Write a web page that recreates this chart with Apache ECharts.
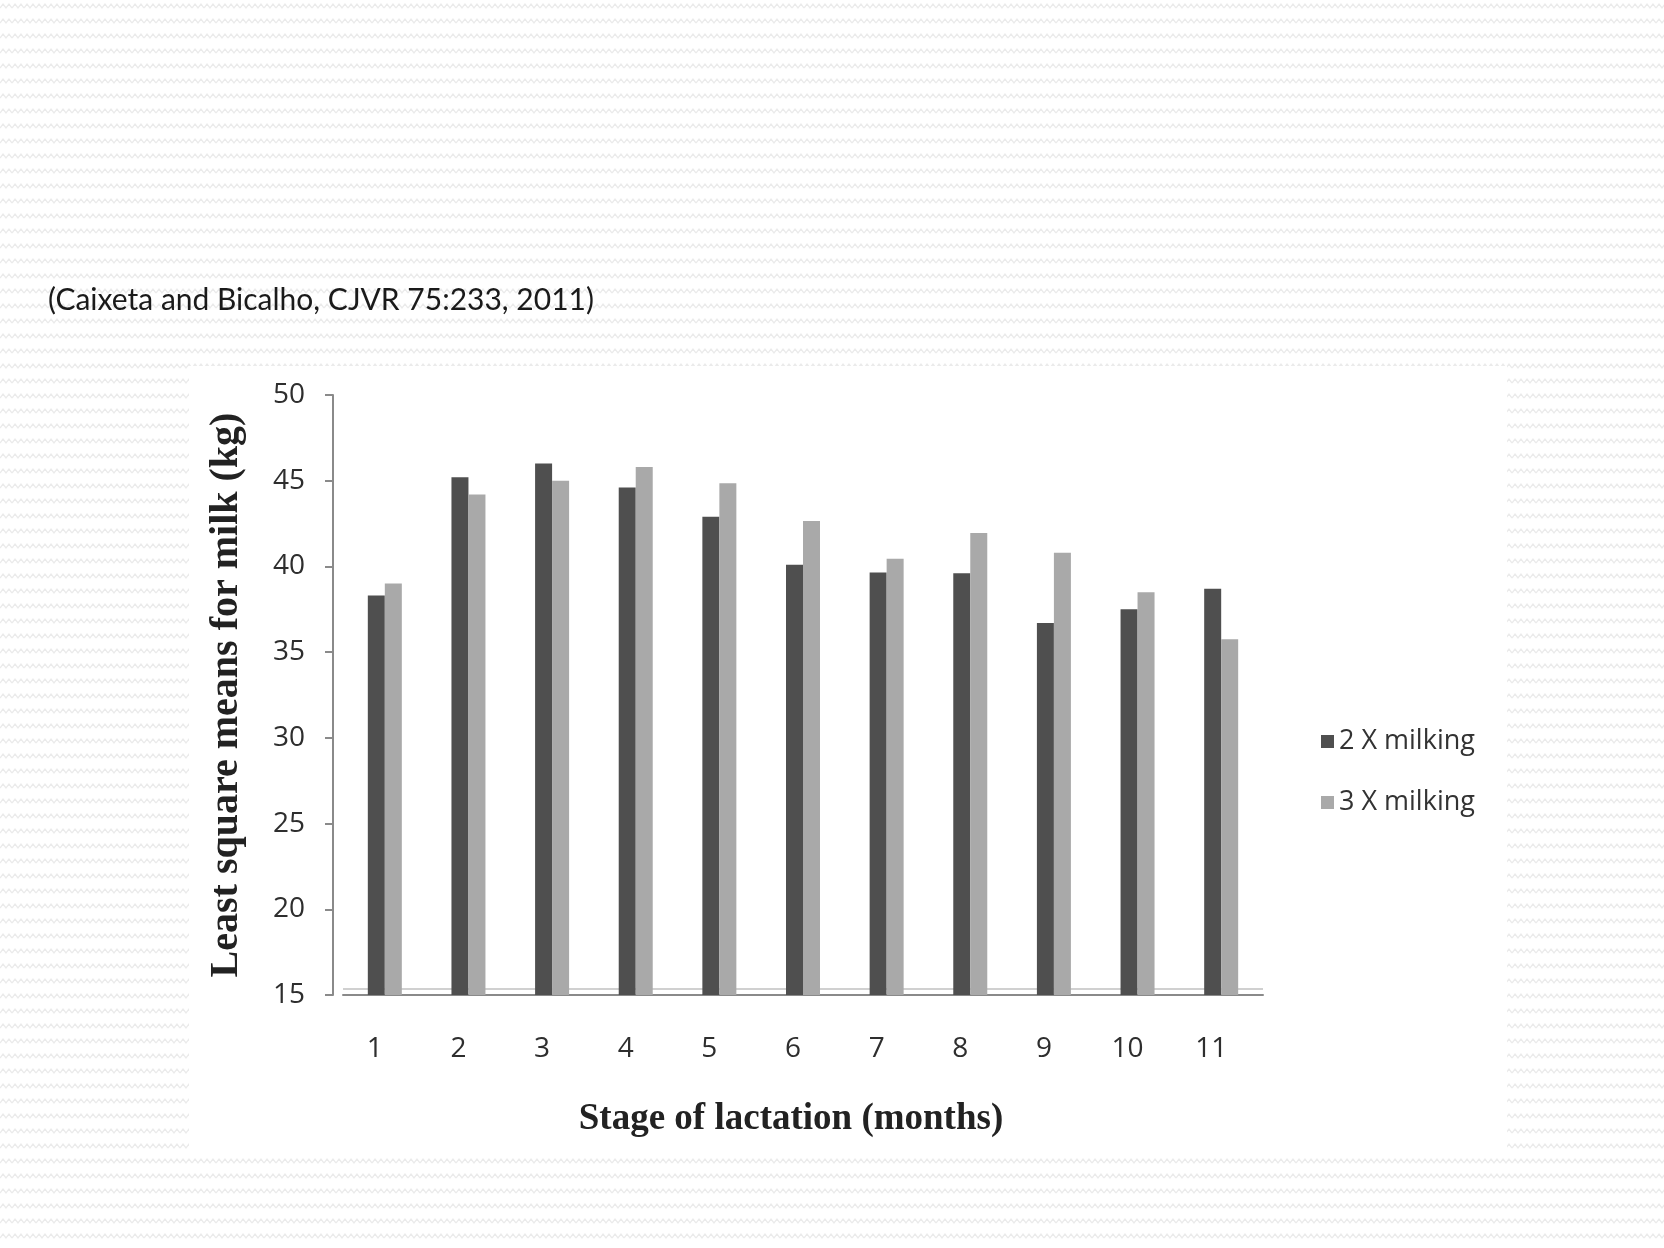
<!DOCTYPE html>
<html>
<head>
<meta charset="utf-8">
<script src="https://cdn.jsdelivr.net/npm/echarts@6/dist/echarts.min.js"></script>
<style>
  html, body { margin: 0; padding: 0; width: 1664px; height: 1248px; overflow: hidden; }
  body {
    background-color: #ffffff;
    background-image: url("data:image/svg+xml;utf8,<svg xmlns='http://www.w3.org/2000/svg' width='12' height='15'><path d='M0 8 L3 4 L6 8 L9 4 L12 8' fill='none' stroke='%23ebebeb' stroke-width='1.3'/></svg>");
  }
  #panel { position: absolute; left: 189px; top: 366px; width: 1318px; height: 789px; background: #ffffff; }
  #chart { position: absolute; left: 0; top: 0; width: 1664px; height: 1248px; }
</style>
</head>
<body>
<div id="panel"></div>
<div id="chart"></div>
<script>
const sourceNote = '(Caixeta and Bicalho, CJVR 75:233, 2011)';
const categories = ['1', '2', '3', '4', '5', '6', '7', '8', '9', '10', '11'];
const seriesNames = ['2 X milking', '3 X milking'];
const milking2x = [38.3, 45.2, 46.0, 44.6, 42.9, 40.1, 39.65, 39.6, 36.7, 37.5, 38.7];
const milking3x = [39.0, 44.2, 45.0, 45.8, 44.85, 42.65, 40.45, 41.95, 40.8, 38.5, 35.75];
const yTicks = { min: 15, max: 50, interval: 5 };
const floorValue = 15.35;
const xTitle = 'Stage of lactation (months)';
const yTitle = 'Least square means for milk (kg)';

const chart = echarts.init(document.getElementById('chart'), null, { renderer: 'canvas' });
chart.setOption({
  backgroundColor: 'transparent',
  animation: false,
  title: {
    text: sourceNote,
    left: 43,
    top: 280,
    textStyle: { fontFamily: 'Lato', fontWeight: 'normal', fontSize: 30, color: '#1a1a1a' }
  },
  legend: {
    orient: 'vertical',
    left: 1316,
    top: 723,
    itemWidth: 13,
    itemHeight: 13,
    itemGap: 34,
    icon: 'rect',
    data: seriesNames,
    textStyle: { fontFamily: 'Open Sans', fontSize: 27, color: '#333333' }
  },
  grid: { left: 343, right: 401, top: 395, bottom: 253 },
  xAxis: {
    type: 'category',
    data: categories,
    axisLine: { lineStyle: { color: '#8a8a8a', width: 2 } },
    axisTick: { show: false },
    axisLabel: {
      fontFamily: 'Open Sans', fontSize: 28, color: '#2e2e2e', margin: 40,
      padding: [0, 20, 0, 0]
    },
    name: xTitle,
    nameLocation: 'middle',
    nameGap: 106,
    nameTextStyle: {
      fontFamily: 'Liberation Serif', fontWeight: 'bold', fontSize: 37, color: '#222222',
      padding: [0, 24, 0, 0]
    }
  },
  yAxis: {
    type: 'value',
    min: yTicks.min,
    max: yTicks.max,
    interval: yTicks.interval,
    offset: 10,
    axisLine: { show: true, lineStyle: { color: '#8a8a8a', width: 2 } },
    axisTick: { show: true, length: 8, lineStyle: { color: '#8a8a8a', width: 2 } },
    splitLine: { show: false },
    axisLabel: { fontFamily: 'Open Sans', fontSize: 28, color: '#2e2e2e', margin: 28 },
    name: yTitle,
    nameLocation: 'middle',
    nameRotate: 90,
    nameGap: 86,
    nameTextStyle: { fontFamily: 'Liberation Serif', fontWeight: 'bold', fontSize: 40, color: '#222222' }
  },
  series: [
    {
      name: seriesNames[0],
      type: 'bar',
      data: milking2x,
      barWidth: 17,
      barGap: '0%',
      itemStyle: { color: '#4f4f4f' },
      markLine: {
        silent: true,
        symbol: 'none',
        label: { show: false },
        lineStyle: { color: '#d0d0d0', width: 2, type: 'solid' },
        data: [{ yAxis: floorValue }],
        z: 1
      }
    },
    {
      name: seriesNames[1],
      type: 'bar',
      data: milking3x,
      barWidth: 17,
      barGap: '0%',
      itemStyle: { color: '#a9a9a9' }
    }
  ]
});
</script>
</body>
</html>
